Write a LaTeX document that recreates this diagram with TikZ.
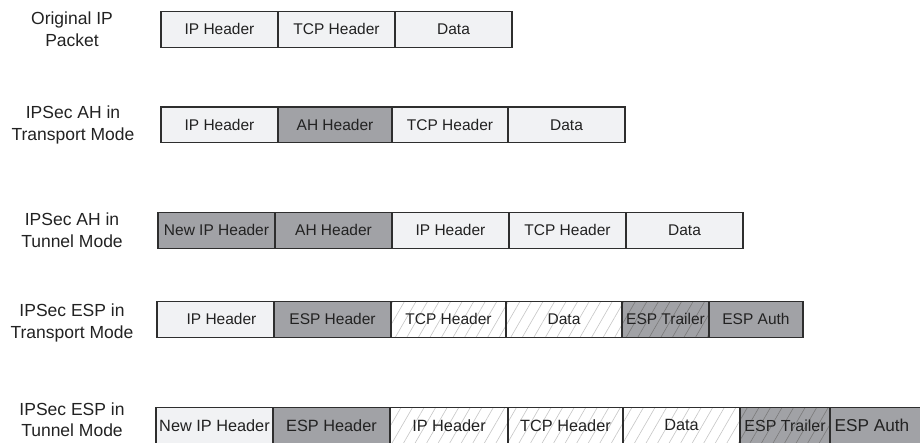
\documentclass[tikz,border=0pt]{standalone}
\usepackage{fontspec}
\setmainfont{Liberation Sans}
\usetikzlibrary{patterns.meta}
\definecolor{lightc}{HTML}{F1F2F4}
\definecolor{darkc}{HTML}{A1A2A6}
\definecolor{edgec}{HTML}{2E2E2E}
\definecolor{txtc}{HTML}{222222}
\definecolor{hatchc}{HTML}{C6C6C6}
\definecolor{hatchd}{HTML}{7A7A7A}
\begin{document}
\begin{tikzpicture}[x=1pt,y=-1pt,
  cell/.style={draw=edgec, line width=1.2pt, inner sep=0pt, outer sep=0pt,
    text=txtc, font=\fontsize{15.5}{18}\selectfont, anchor=north west,
    minimum height=35.5pt},
  lightcell/.style={cell, fill=lightc},
  darkcell/.style={cell, fill=darkc},
  hatchcell/.style={cell, preaction={fill=white},
    pattern={Lines[angle=60,distance=10pt,line width=0.6pt]}, pattern color=hatchc},
  dhatchcell/.style={cell, preaction={fill=darkc},
    pattern={Lines[angle=60,distance=10pt,line width=0.6pt]}, pattern color=hatchd},
  lbl/.style={align=center, text=txtc, font=\fontsize{17.5}{22}\selectfont, inner sep=0pt}]
\useasboundingbox (0,0) rectangle (920,442);
\clip (0,0) rectangle (920,442);

% labels
\node[lbl] (l1) at (72,29) {Original IP\\Packet};
\node[lbl] (l2) at (73,125) {IPSec AH in\\Transport Mode};
\node[lbl] (l3) at (72,230.5) {IPSec AH in\\Tunnel Mode};
\node[lbl] (l4) at (72,323) {IPSec ESP in\\Transport Mode};
\node[lbl, font=\fontsize{17.5}{21}\selectfont] (l5) at (72,420) {IPSec ESP in\\Tunnel Mode};

% row 1
\node[lightcell, minimum width=117pt] (r1a) at (161,11.7) {IP Header};
\node[lightcell, minimum width=117pt] (r1b) at (278,11.7) {TCP Header};
\node[lightcell, minimum width=117pt] (r1c) at (395,11.7) {Data};

% row 2
\node[lightcell, minimum width=117pt] (r2a) at (161,107) {IP Header};
\node[darkcell, minimum width=114pt] (r2b) at (278,107) {AH Header};
\node[lightcell, minimum width=116pt] (r2c) at (392,107) {TCP Header};
\node[lightcell, minimum width=117pt] (r2d) at (508,107) {Data};

% row 3
\node[darkcell, minimum width=117pt] (r3a) at (158,212.7) {New IP Header};
\node[darkcell, minimum width=117pt] (r3b) at (275,212.7) {AH Header};
\node[lightcell, minimum width=117pt] (r3c) at (392,212.7) {IP Header};
\node[lightcell, minimum width=117pt] (r3d) at (509,212.7) {TCP Header};
\node[lightcell, minimum width=117pt] (r3e) at (626,212.7) {Data};

% row 4
\node[lightcell, minimum width=117pt] (r4a) at (157,301.7) {\hspace{12pt}IP Header};
\node[darkcell, minimum width=117pt] (r4b) at (274,301.7) {ESP Header};
\node[hatchcell, minimum width=115pt] (r4c) at (391,301.7) {TCP Header};
\node[hatchcell, minimum width=116pt] (r4d) at (506,301.7) {Data};
\node[dhatchcell, minimum width=87pt] (r4e) at (622,301.7) {ESP Trailer};
\node[darkcell, minimum width=94pt] (r4f) at (709,301.7) {ESP Auth};

% row 5
\node[lightcell, minimum width=117pt, font=\fontsize{16.3}{18}\selectfont] (r5a) at (156,407.7) {New IP Header};
\node[darkcell, minimum width=117pt, font=\fontsize{16.3}{18}\selectfont] (r5b) at (273,407.7) {ESP Header};
\node[hatchcell, minimum width=118pt, font=\fontsize{16.3}{18}\selectfont] (r5c) at (390,407.7) {IP Header};
\node[hatchcell, minimum width=115pt, font=\fontsize{16.3}{18}\selectfont] (r5d) at (508,407.7) {TCP Header};
\node[hatchcell, minimum width=117pt, font=\fontsize{16.3}{18}\selectfont] (r5e) at (623,407.7) {Data};
\node[dhatchcell, minimum width=90pt, font=\fontsize{16}{18}\selectfont] (r5f) at (740,407.7) {ESP Trailer};
\node[darkcell, minimum width=92pt, font=\fontsize{17.2}{18}\selectfont] (r5g) at (830,407.7) {\hspace{-8pt}ESP Auth};
\end{tikzpicture}
\end{document}
